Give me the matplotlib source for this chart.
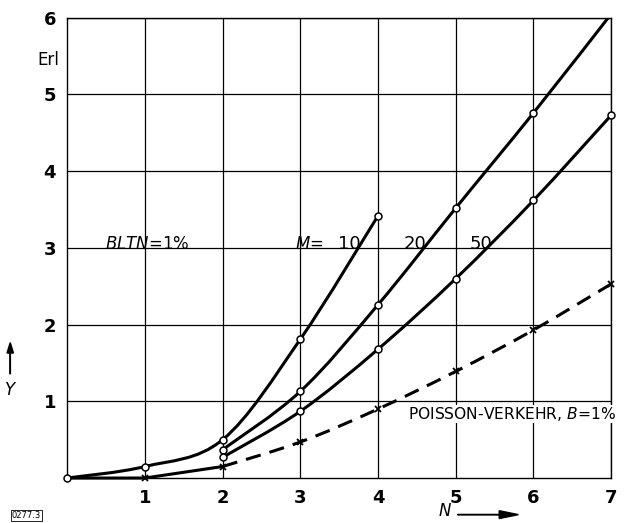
import matplotlib
matplotlib.use("Agg")
import matplotlib.pyplot as plt
from matplotlib.patches import FancyArrow, PathPatch
from matplotlib.path import Path

plt.rcParams['font.family'] = ['DejaVu Sans']

# Data
m10_x = [0, 1, 2, 3, 4]
m10_y = [0.0, 0.15, 0.50, 1.81, 3.42]
m20_x = [2, 3, 4, 5, 6, 7]
m20_y = [0.37, 1.13, 2.26, 3.52, 4.76, 6.05]
m50_x = [2, 3, 4, 5, 6, 7]
m50_y = [0.27, 0.87, 1.68, 2.60, 3.62, 4.73]
poi_x = [0, 1, 2, 3, 4, 5, 6, 7]
poi_y = [0.0, 0.0, 0.15, 0.47, 0.90, 1.39, 1.93, 2.53]
x_ticks = [1, 2, 3, 4, 5, 6, 7]
y_ticks = [1, 2, 3, 4, 5, 6]


def smooth_path(xs, ys):
    """Bezier path through the data points (Catmull-Rom control points)."""
    n = len(xs)
    verts = [(xs[0], ys[0])]
    codes = [Path.MOVETO]
    for i in range(n - 1):
        x0, y0 = (xs[i - 1], ys[i - 1]) if i > 0 else (xs[i], ys[i])
        x1, y1 = xs[i], ys[i]
        x2, y2 = xs[i + 1], ys[i + 1]
        x3, y3 = (xs[i + 2], ys[i + 2]) if i + 2 < n else (x2, y2)
        c1 = (x1 + (x2 - x0) / 6.0, y1 + (y2 - y0) / 6.0)
        c2 = (x2 - (x3 - x1) / 6.0, y2 - (y3 - y1) / 6.0)
        verts += [c1, c2, (x2, y2)]
        codes += [Path.CURVE4] * 3
    return Path(verts, codes)


fig = plt.figure(figsize=(6.4, 5.23), dpi=100)
ax = fig.add_axes([0.105, 0.086, 0.850, 0.880])
ax.set_xlim(0, 7)
ax.set_ylim(0, 6)
for s in ax.spines.values():
    s.set_linewidth(1.0)
ax.set_xticks(x_ticks)
ax.set_yticks(y_ticks)
ax.tick_params(length=0, labelsize=13, pad=8)
for lab in ax.get_xticklabels() + ax.get_yticklabels():
    lab.set_fontweight('bold')
ax.grid(True, color='black', linewidth=0.9)

lw = 2.2
mk = dict(ls='none', marker='o', markersize=5, markerfacecolor='white',
          markeredgecolor='black', markeredgewidth=1.1, zorder=5, clip_on=False)

# Poisson: solid (straight) to x=2, dashed smooth after
ax.plot(poi_x[:3], poi_y[:3], color='black', lw=lw, zorder=3, clip_on=False)
ax.add_patch(PathPatch(smooth_path(poi_x[2:], poi_y[2:]), fill=False, ec='black', lw=lw,
                       ls=(0, (5, 3)), zorder=3, clip_on=False))
ax.plot(poi_x[1:], poi_y[1:], ls='none', marker='x', color='black', markersize=5, mew=1.3,
        clip_on=False, zorder=4)

ax.add_patch(PathPatch(smooth_path(m10_x, m10_y), fill=False, ec='black', lw=lw, zorder=3, clip_on=False))
ax.add_patch(PathPatch(smooth_path(m20_x, m20_y), fill=False, ec='black', lw=lw, zorder=3))
ax.add_patch(PathPatch(smooth_path(m50_x, m50_y), fill=False, ec='black', lw=lw, zorder=3, clip_on=False))
ax.plot(m10_x, m10_y, **mk)
ax.plot(m20_x[:-1], m20_y[:-1], **mk)
ax.plot(m50_x, m50_y, **mk)

# Annotations
ax.text(0.48, 3.05, r'$\it{BLTN}$=1%', fontsize=12, va='center')
ax.text(2.93, 3.05, r'$\it{M}$=', fontsize=12, va='center')
ax.text(3.48, 3.05, '10', fontsize=13, va='center')
ax.text(4.33, 3.05, '20', fontsize=13, va='center')
ax.text(5.18, 3.05, '50', fontsize=13, va='center')
ax.text(4.38, 0.84, r'POISSON-VERKEHR, $\it{B}$=1%', fontsize=11.2, va='center', clip_on=False,
        zorder=6, bbox=dict(boxstyle='square,pad=0.0', fc='white', ec='none'))

fig.text(0.075, 0.885, 'Erl', fontsize=12, ha='center', va='center')
fig.text(0.016, 0.255, r'$\it{Y}$', fontsize=12, ha='center', va='center')
fig.patches.append(FancyArrow(0.016, 0.285, 0, 0.04, width=0.0005, head_width=0.01,
                               head_length=0.02, color='black', transform=fig.transFigure))
fig.text(0.695, 0.022, r'$\it{N}$', fontsize=12, ha='center', va='center')
fig.patches.append(FancyArrow(0.715, 0.016, 0.065, 0, width=0.0008, head_width=0.015,
                               head_length=0.03, color='black', transform=fig.transFigure))
fig.text(0.018, 0.014, '0277.3', fontsize=6, ha='left', va='center',
         bbox=dict(boxstyle='square,pad=0.1', fc='white', ec='black', lw=0.6))

fig.savefig('out.png', dpi=100)
